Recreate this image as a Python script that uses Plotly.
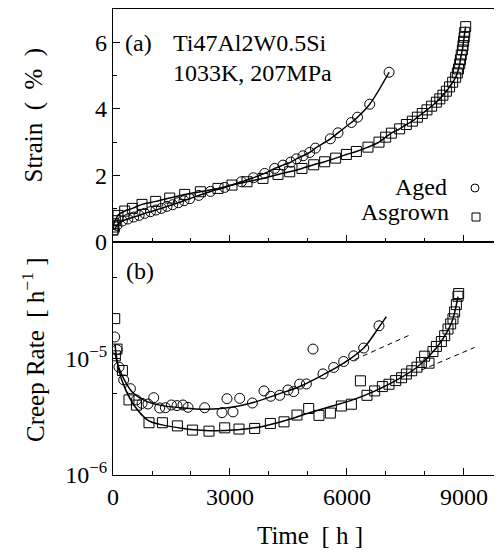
import plotly.graph_objects as go

# ---------------- data ----------------
# (a) strain vs time
aged_t = [40, 100, 241, 380, 531, 670, 813, 960, 1103, 1240, 1385, 1530, 1676, 1820, 1967,
          2200, 2500, 2864, 3292, 3600, 3890, 4146, 4360, 4560, 4703, 4874, 5044, 5190,
          5574, 5769, 6113, 6270, 6582, 7080]
aged_strain = [0.36, 0.50, 0.63, 0.69, 0.75, 0.80, 0.86, 0.91, 0.96, 1.01, 1.07, 1.12, 1.18,
               1.24, 1.30, 1.40, 1.52, 1.64, 1.81, 1.93, 2.06, 2.21, 2.31, 2.40, 2.50, 2.59,
               2.69, 2.82, 3.10, 3.28, 3.59, 3.75, 4.14, 5.10]

asg_t = [0, 10, 20, 60, 128, 300, 497, 744, 1095, 1454, 1838, 2241, 2692, 3051, 3436, 3846,
         4231, 4531, 4846, 5146, 5428, 5710, 5985, 6241, 6538, 6821, 6992, 7138, 7351, 7523,
         7677, 7805, 7930, 8051, 8170, 8292, 8380, 8460, 8549, 8630, 8710, 8787, 8830, 8860,
         8890, 8910, 8930, 8959, 8975, 8990, 9005, 9020, 9044]
asg_strain = [0.36, 0.45, 0.55, 0.64, 0.80, 0.93, 1.01, 1.13, 1.22, 1.32, 1.43, 1.51, 1.61,
              1.71, 1.81, 1.91, 2.03, 2.11, 2.21, 2.32, 2.41, 2.52, 2.63, 2.72, 2.85, 3.00,
              3.15, 3.27, 3.40, 3.53, 3.63, 3.75, 3.86, 3.97, 4.08, 4.20, 4.30, 4.41, 4.53,
              4.66, 4.80, 4.95, 5.08, 5.20, 5.35, 5.48, 5.62, 5.77, 5.90, 6.03, 6.15, 6.30, 6.47]

# (b) creep rate vs time
aged_rate_t = [44, 103, 154, 274, 446, 600, 745, 897, 1044, 1197, 1343, 1497, 1641, 1795,
               1923, 2351, 2795, 2923, 3077, 3249, 3574, 3872, 4044, 4274, 4487, 4633, 4787,
               4959, 5128, 5385, 5659, 5915, 6172, 6428, 6821]
aged_rate = [1.53e-5, 1.19e-5, 8.43e-6, 6.55e-6, 5.51e-6, 4.41e-6, 4.12e-6, 4.07e-6, 4.61e-6,
             3.76e-6, 3.78e-6, 3.99e-6, 3.94e-6, 3.99e-6, 3.81e-6, 3.78e-6, 3.43e-6, 4.52e-6,
             3.48e-6, 4.55e-6, 4.15e-6, 5.27e-6, 4.74e-6, 4.83e-6, 5.37e-6, 5.20e-6, 6.03e-6,
             6.05e-6, 1.205e-5, 7.38e-6, 8.38e-6, 9.42e-6, 1.054e-5, 1.23e-5, 1.91e-5]

asg_rate_t = [44, 61, 103, 241, 410, 600, 923, 1267, 1651, 2036, 2462, 2864, 3231, 3633, 4036,
              4385, 4718, 5018, 5282, 5574, 5856, 6113, 6344, 6513, 6710, 6908, 7077, 7249,
              7400, 7523, 7660, 7795, 7908, 7992, 8103, 8205, 8292, 8420, 8505, 8590, 8659,
              8718, 8760, 8805, 8846, 8864]
asg_rate = [2.20e-5, 1.054e-5, 1.205e-5, 7.89e-6, 4.41e-6, 3.98e-6, 2.81e-6, 2.81e-6, 2.64e-6,
            2.43e-6, 2.38e-6, 2.54e-6, 2.48e-6, 2.51e-6, 2.77e-6, 2.86e-6, 3.27e-6, 3.72e-6,
            3.25e-6, 3.40e-6, 3.91e-6, 4.05e-6, 6.43e-6, 4.83e-6, 5.27e-6, 5.74e-6, 6.01e-6,
            6.46e-6, 6.84e-6, 7.35e-6, 7.85e-6, 8.43e-6, 9.25e-6, 1.047e-5, 9.12e-6, 1.148e-5,
            1.27e-5, 1.40e-5, 1.57e-5, 1.79e-5, 1.98e-5, 2.19e-5, 2.51e-5, 2.90e-5, 3.42e-5,
            3.61e-5]

# fitted curves
aged_fit_t = [50, 150, 300, 500, 800, 1200, 1800, 2400, 3000, 3574, 4200, 4787, 5385, 5915,
              6428, 6821, 7010]
aged_fit = [1.12e-5, 8.32e-6, 6.46e-6, 5.13e-6, 4.37e-6, 3.98e-6, 3.76e-6, 3.67e-6, 3.80e-6,
            4.17e-6, 4.90e-6, 5.75e-6, 7.24e-6, 9.12e-6, 1.23e-5, 1.86e-5, 2.29e-5]
asg_fit_t = [50, 150, 300, 559, 897, 1200, 1800, 2500, 3200, 3800, 4400, 5000, 5600, 6113,
             6710, 7249, 7795, 8292, 8590, 8718, 8846]
asg_fit = [1.32e-5, 7.94e-6, 5.62e-6, 3.89e-6, 2.95e-6, 2.72e-6, 2.51e-6, 2.40e-6, 2.45e-6,
           2.60e-6, 2.92e-6, 3.39e-6, 3.89e-6, 4.37e-6, 5.25e-6, 6.46e-6, 8.41e-6, 1.23e-5,
           1.74e-5, 2.19e-5, 3.39e-5]

# dashed extrapolations
aged_dash_t = [6197, 7625]
aged_dash = [9.77e-6, 1.60e-5]
asg_dash_t = [7900, 9274]
asg_dash = [7.94e-6, 1.245e-5]

series_names = ["Aged", "Asgrown"]
strain_ticks = [0, 2, 4, 6]
strain_right_ticks = [1, 2, 3, 4, 5, 6]
rate_ticks = [1e-6, 1e-5]
rate_ticktext = ["10<sup>\u22126</sup>", "10<sup>\u22125</sup>"]
time_ticks = [0, 3000, 6000, 9000]

# ---------------- figure ----------------
# The page body has an 8px margin, so the figure is sized to fit the 502x555 window.
W, H = 494, 547
L, T, B = 105, 1, 80
PW, PH = W - L, H - T - B          # 389 x 466
NB = "\u00a0"


def wp(wx, wy):
    """window pixel -> paper coords"""
    return (wx - 8 - L) / PW, (T + PH - (wy - 8)) / PH


FONT = "Liberation Serif, Times New Roman, serif"
BLACK = "black"
LW = 1.3
circ = dict(symbol="circle-open", size=10, color=BLACK, line=dict(width=1, color=BLACK))
sq = dict(symbol="square-open", size=10, color=BLACK, line=dict(width=1, color=BLACK))

fig = go.Figure()

# top panel (xaxis2 / yaxis2)
fig.add_trace(go.Scatter(x=asg_t, y=asg_strain, mode="lines+markers", marker=sq,
                         line=dict(color=BLACK, width=1.5, shape="spline"),
                         xaxis="x2", yaxis="y2", showlegend=False))
fig.add_trace(go.Scatter(x=aged_t, y=aged_strain, mode="lines+markers", marker=circ,
                         line=dict(color=BLACK, width=1.5, shape="spline"),
                         xaxis="x2", yaxis="y2", showlegend=False))

# bottom panel
fig.add_trace(go.Scatter(x=aged_fit_t, y=aged_fit, mode="lines",
                         line=dict(color=BLACK, width=1.5, shape="spline"), showlegend=False))
fig.add_trace(go.Scatter(x=asg_fit_t, y=asg_fit, mode="lines",
                         line=dict(color=BLACK, width=1.5, shape="spline"), showlegend=False))
fig.add_trace(go.Scatter(x=aged_dash_t, y=aged_dash, mode="lines",
                         line=dict(color=BLACK, width=1, dash="5px,4px"), showlegend=False))
fig.add_trace(go.Scatter(x=asg_dash_t, y=asg_dash, mode="lines",
                         line=dict(color=BLACK, width=1, dash="5px,4px"), showlegend=False))
fig.add_trace(go.Scatter(x=aged_rate_t, y=aged_rate, mode="markers", marker=circ,
                         showlegend=False))
fig.add_trace(go.Scatter(x=asg_rate_t, y=asg_rate, mode="markers", marker=sq,
                         showlegend=False))

# empty traces so that the right-hand tick axes are drawn
fig.add_trace(go.Scatter(x=[], y=[], xaxis="x", yaxis="y3", showlegend=False))
fig.add_trace(go.Scatter(x=[], y=[], xaxis="x2", yaxis="y4", showlegend=False))

tickfont = dict(family=FONT, size=24, color=BLACK)
xcommon = dict(range=[0, 9975], showline=True, linecolor=BLACK, linewidth=LW, mirror=True,
               ticks="inside", ticklen=7, tickwidth=1, tickcolor=BLACK,
               tickvals=time_ticks, showgrid=False, zeroline=False,
               minor=dict(dtick=1000, tick0=0, ticks="inside", ticklen=4, tickcolor=BLACK))
ycommon = dict(showgrid=False, zeroline=False, ticks="inside", tickcolor=BLACK)

fig.update_layout(
    width=W, height=H,
    margin=dict(l=L, r=0, t=T, b=B),
    paper_bgcolor="white", plot_bgcolor="white",
    font=dict(family=FONT, color=BLACK, size=24),
    xaxis=dict(**xcommon, anchor="y", domain=[0, 1], tickfont=tickfont,
               ticktext=[str(v) for v in time_ticks]),
    yaxis=dict(**ycommon, type="log", range=[-6, -4], domain=[0, 0.5], anchor="x",
               showline=True, linecolor=BLACK, linewidth=LW, mirror=False,
               ticklen=7, tickvals=rate_ticks, ticktext=rate_ticktext, tickfont=tickfont,
               minor=dict(tickvals=[5e-6, 5e-5], ticks="inside", ticklen=4, tickcolor=BLACK)),
    yaxis3=dict(**ycommon, type="log", range=[-6, -4], overlaying="y", side="right",
                anchor="x", showline=False, ticklen=7, tickvals=[1e-5],
                showticklabels=False,
                minor=dict(tickvals=[5e-6, 5e-5], ticks="inside", ticklen=5, tickcolor=BLACK)),
    xaxis2=dict(**xcommon, anchor="y2", domain=[0, 1], showticklabels=False),
    yaxis2=dict(**ycommon, range=[0, 7], domain=[0.5, 1], anchor="x2",
                showline=True, linecolor=BLACK, linewidth=LW, mirror=False,
                ticklen=7, tickvals=strain_ticks, tickfont=tickfont,
                minor=dict(dtick=1, tick0=0, ticks="inside", ticklen=4, tickcolor=BLACK)),
    yaxis4=dict(**ycommon, range=[0, 7], overlaying="y2", side="right", anchor="x2",
                showline=False, ticklen=5, tickvals=strain_right_ticks,
                showticklabels=False),
)

ann = [
    dict(text="(a)", x=123, y=43, xanchor="left"),
    dict(text="Ti47Al2W0.5Si", x=171, y=43, xanchor="left"),
    dict(text="1033K, 207MPa", x=171, y=73, xanchor="left"),
    dict(text="(b)", x=124, y=271, xanchor="left"),
    dict(text=series_names[0], x=449, y=187, xanchor="right"),
    dict(text=series_names[1], x=451, y=212, xanchor="right"),
]
for a in ann:
    px, py = wp(a["x"], a["y"])
    fig.add_annotation(text=a["text"], xref="paper", yref="paper", x=px, y=py,
                       xanchor=a["xanchor"], yanchor="middle", showarrow=False,
                       font=dict(family=FONT, size=24, color=BLACK))

# axis titles
px, py = wp(33, 185)
fig.add_annotation(text=f"Strain{NB}{NB}({NB}{NB}%{NB}{NB})", xref="paper", yref="paper",
                   x=px, y=py, textangle=-90, xanchor="center", yanchor="bottom",
                   showarrow=False, font=dict(family=FONT, size=25, color=BLACK))
px, py = wp(33, 350)
fig.add_annotation(text=f"Creep Rate{NB}{NB}[{NB}h<sup>\u22121</sup>{NB}]", xref="paper",
                   yref="paper", x=px, y=py, textangle=-90, xanchor="center",
                   yanchor="middle", showarrow=False,
                   font=dict(family=FONT, size=25, color=BLACK))
px, py = wp(310, 535)
fig.add_annotation(text=f"Time{NB}{NB}[{NB}h{NB}]", xref="paper", yref="paper", x=px, y=py,
                   xanchor="center", yanchor="middle", showarrow=False,
                   font=dict(family=FONT, size=25, color=BLACK))

# legend keys (drawn to the right of the labels, as in the original)
cx, cy = wp(475, 188)
fig.add_shape(type="circle", xref="paper", yref="paper",
              x0=cx - 4 / PW, x1=cx + 4 / PW, y0=cy - 4 / PH, y1=cy + 4 / PH,
              line=dict(color=BLACK, width=1))
sx, sy = wp(476, 217)
fig.add_shape(type="rect", xref="paper", yref="paper",
              x0=sx - 4 / PW, x1=sx + 4 / PW, y0=sy - 4 / PH, y1=sy + 4 / PH,
              line=dict(color=BLACK, width=1))

fig.write_html("out.html")
